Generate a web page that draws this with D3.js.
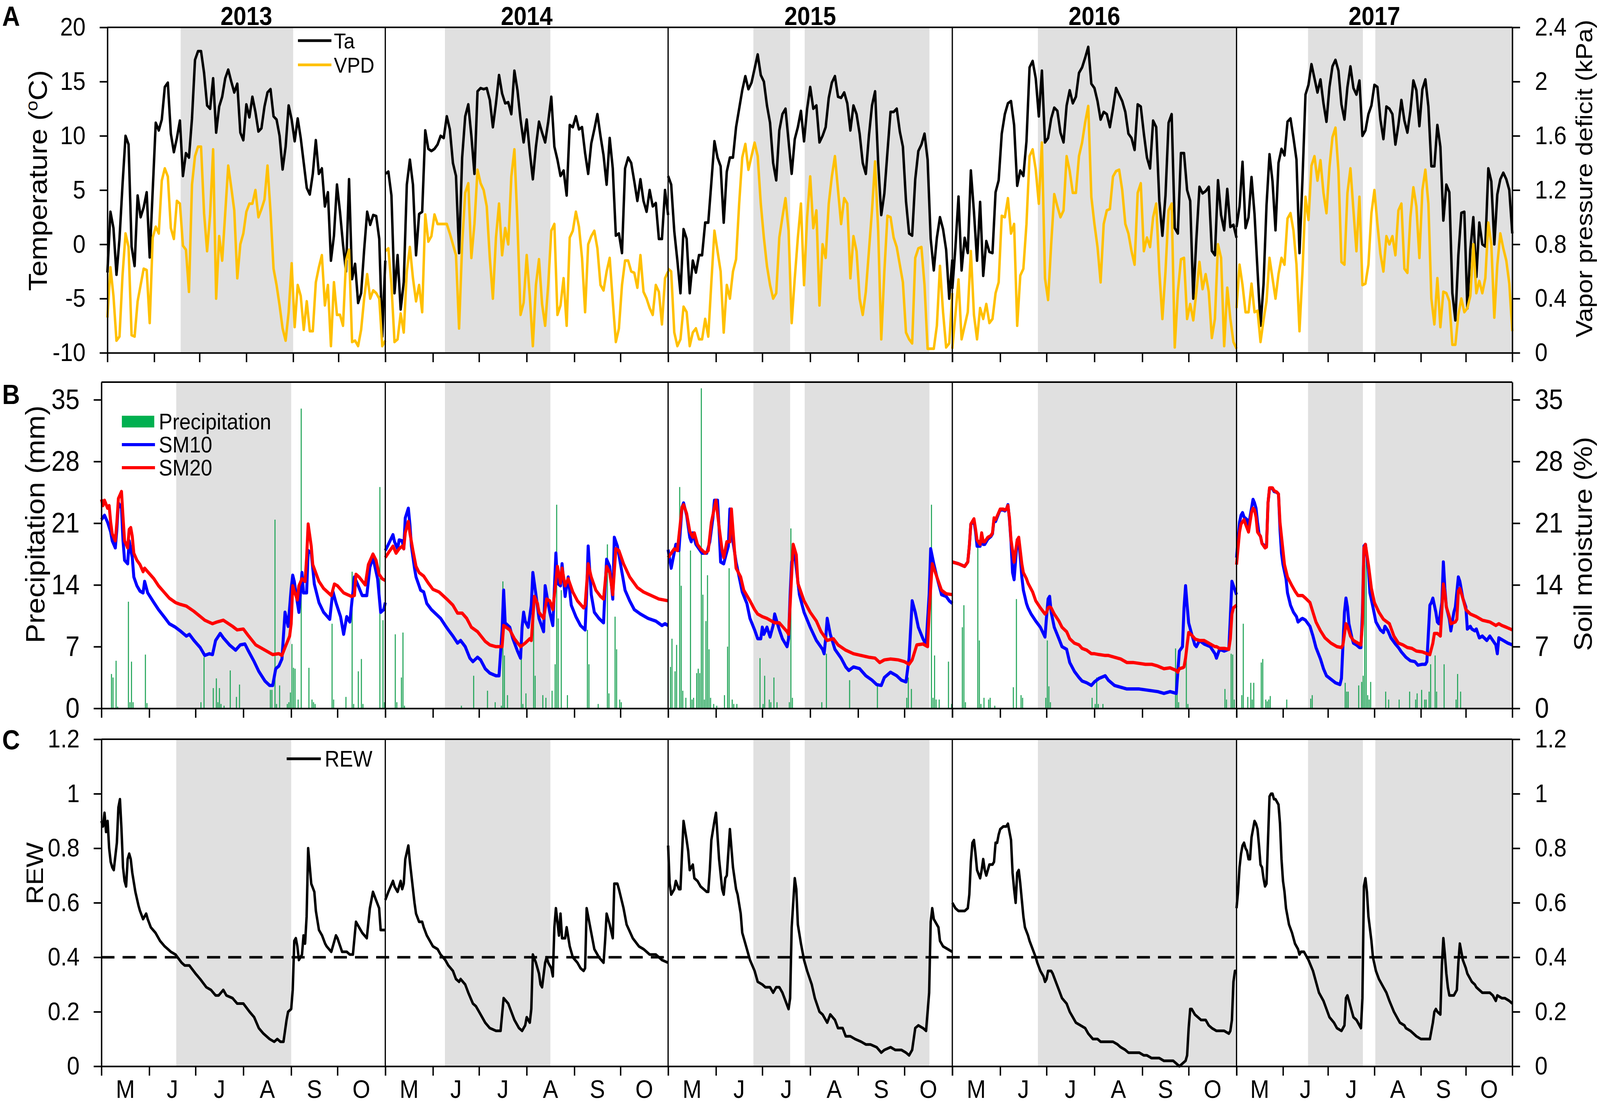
<!DOCTYPE html>
<html>
<head>
<meta charset="utf-8">
<script src="https://cdn.jsdelivr.net/npm/d3@7"></script>
<style>
  html, body { margin: 0; padding: 0; background: #fff; width: 100%; height: 100%; overflow: hidden; }
  #chart { width: 100vw; height: 100vh; }
  #chart svg { display: block; width: 100%; height: 100%; }
  svg text { font-family: "Liberation Sans", Arial, sans-serif; }
</style>
</head>
<body>
<div id="chart"></div>
<script>
// ---- data (day 0 = 1 May, day 184 = 1 Nov) ----
const years = [2013, 2014, 2015, 2016, 2017];
const monthStarts = [0, 31, 61, 92, 123, 153, 184];
const monthLabels = ['M', 'J', 'J', 'A', 'S', 'O'];
const taTicks = [-10, -5, 0, 5, 10, 15, 20];
const vpdTicks = [0, 0.4, 0.8, 1.2, 1.6, 2, 2.4];
const mmTicks = [0, 7, 14, 21, 28, 35];
const rewTicks = [0, 0.2, 0.4, 0.6, 0.8, 1, 1.2];
const rewThreshold = 0.4;

// grey periods [startDay, endDay] per year
const droughtPeriods = [
  [[48.5, 123]],
  [[38.8, 107.4]],
  [[55.2, 79], [88.4, 169.2]],
  [[55.4, 184]],
  [[47.7, 84.3], [92.6, 184]]
];

// air temperature (degC), one value every 2 days
const taSeries = [
  [-2.6, 3.0, 1.5, -2.8, 0.5, 5.5, 10, 9.2, -0.2, -2.0,
   4.5, 2.5, 3.4, 4.8, -1.2, 5.0, 11.2, 10.5, 11.5, 14.5,
   14.9, 10.2, 8.5, 9.8, 11.4, 6.3, 8.4, 8.0, 11.6, 17.0,
   17.8, 17.8, 15.8, 12.8, 12.5, 15.3, 10.3, 12.7, 13.6, 15.3,
   16.1, 15.0, 14.0, 14.8, 10.3, 9.6, 12.9, 11.7, 13.6, 12.2,
   10.4, 10.7, 12.7, 14.0, 14.3, 11.8, 11.5, 10.0, 6.9, 9.0,
   12.8, 11.5, 9.5, 11.6, 9.8, 7.5, 5.2, 4.6, 6.5, 9.6,
   6.5, 7.0, 3.5, 4.8, -1.5, 0.8, 5.5, 3.0, 0.0, -2.5,
   6.0, -3.2, -1.8, -5.4, -4.5, -0.5, 3.0, 1.8, 2.7, 2.6,
   0.5, -8.5, -1.5],
  [6.5, 6.7, 4.5, -4.5, -1.0, -6.0, -3.5, 5.5, 7.8, 5.5,
   -1.0, 2.8, 3.0, 10.5, 8.8, 8.6, 8.8, 9.2, 10.0, 9.8,
   11.8, 10.6, 7.5, 6.3, -0.8, 8.0, 11.8, 12.9, 10.0, 6.5,
   14.1, 14.4, 14.3, 14.4, 13.3, 10.8, 13.0, 15.6, 13.9, 13.0,
   13.1, 12.0, 16.0, 14.2, 11.5, 9.4, 11.5, 8.5, 6.0, 9.0,
   11.3, 10.3, 9.4, 11.3, 13.6, 9.0, 7.8, 6.3, 6.8, 4.5,
   11.0, 10.8, 11.8, 10.6, 10.8, 8.4, 6.5, 9.3, 10.6, 12.0,
   10.0, 8.2, 5.5, 9.8, 7.0, 0.8, 1.0, -0.8, 7.0, 8.0,
   7.5, 5.8, 4.0, 6.0, 4.0, 3.0, 5.0, 3.5, 3.8, 0.5,
   0.5, 5.0, 2.7],
  [6.3, 5.5, 1.2, -1.5, -4.5, 1.4, 0.5, -4.5, -1.5, -2.6,
   -1.0, -1.0, 2.0, 2.0, 5.7, 9.5, 8.0, 7.2, 2.0, 6.7,
   8.0, 8.0, 10.8, 12.5, 14.2, 15.5, 14.3, 14.9, 16.2, 17.5,
   15.6, 15.0, 12.8, 11.2, 7.5, 5.9, 10.5, 12.0, 12.5, 9.5,
   6.5, 9.7, 10.8, 12.3, 9.5, 12.5, 14.5, 12.5, 12.8, 9.4,
   10.0, 10.8, 13.5, 14.9, 15.5, 13.6, 13.5, 14.0, 13.0, 10.5,
   12.8, 12.0, 10.2, 7.5, 6.5, 10.0, 12.8, 14.1, 7.5, 2.7,
   4.7, 8.5, 12.2, 12.2, 12.5, 10.4, 9.0, 4.0, 1.0, 0.8,
   6.0, 8.6, 9.2, 10.2, 7.8, 0.5, -2.4, 0.6, 2.5, 1.4,
   -0.5, -5.0, -1.4],
  [-4.1, -0.3, 4.4, -2.4, 0.6, -0.8, 6.8, 3.0, -1.5, 3.9,
   -2.9, 0.3, -0.7, -0.8, 4.8, 5.9, 10.2, 12.0, 13.0, 13.2,
   11.0, 5.4, 6.8, 6.3, 9.5, 16.3, 16.9, 15.3, 11.8, 16.0,
   9.4, 9.8, 11.6, 12.6, 12.3, 10.3, 9.4, 12.8, 14.2, 13.0,
   13.6, 15.8, 16.3, 17.2, 18.2, 14.8, 14.4, 13.2, 11.5, 12.2,
   12.0, 10.8, 12.5, 14.4, 13.8, 13.2, 12.2, 10.2, 9.8, 8.7,
   12.9, 12.7, 10.2, 8.0, 7.0, 11.4, 10.8, 4.0, 0.8, 4.5,
   11.2, 12.0, 1.5, 1.0, 8.4, 8.4, 5.0, 4.0, -5.0, 0.5,
   5.3, 4.7, 4.9, 5.3, -0.6, -1.0, 5.9, 2.7, 1.3, 5.1,
   1.6, 1.8, 0.6],
  [1.6, 3.5, 7.6, 1.5, 2.5, 6.2, 2.8, -2.4, -7.5, -3.7,
   3.6, 8.3, 5.8, 1.3, 7.5, 8.8, 8.2, 11.3, 11.6, 9.8,
   7.8, -0.8, 6.0, 13.8, 14.7, 16.6, 15.3, 14.0, 15.2, 13.0,
   11.3, 14.5, 16.4, 17.0, 16.0, 12.9, 11.5, 14.5, 16.4, 14.4,
   13.8, 15.1, 10.0, 10.5, 12.0, 12.8, 14.7, 14.5, 11.5, 9.7,
   12.7, 12.5, 12.0, 9.2, 11.0, 13.3, 11.4, 10.3, 12.3, 15.1,
   14.2, 10.9, 14.3, 15.2, 12.7, 7.2, 7.2, 11.0, 9.0, 2.2,
   5.5, 4.8, -4.5, -7.0, -1.0, 2.9, 3.0, -5.9, -0.5, 2.5,
   -3.0, 2.0, 0.0, -0.2, 7.0, 5.8, 0.0, 4.6, 6.0, 6.6,
   6.0, 5.0, 1.0]
];

// vapour pressure deficit (kPa), one value every 2 days
const vpdSeries = [
  [0.26, 0.63, 0.42, 0.09, 0.12, 0.57, 0.88, 0.78, 0.13, 0.12,
   0.38, 0.50, 0.62, 0.61, 0.22, 0.85, 0.93, 0.88, 1.27, 1.36,
   1.30, 0.92, 0.84, 1.12, 1.10, 0.79, 0.76, 0.45, 1.24, 1.45,
   1.52, 1.52, 1.03, 0.75, 1.02, 1.50, 0.40, 0.86, 0.68, 1.03,
   1.38, 1.22, 1.05, 0.55, 0.80, 0.88, 1.04, 1.10, 1.10, 1.20,
   1.00, 1.06, 1.13, 1.38, 1.04, 0.62, 0.50, 0.35, 0.18, 0.09,
   0.30, 0.66, 0.19, 0.50, 0.42, 0.17, 0.38, 0.16, 0.16, 0.52,
   0.63, 0.72, 0.35, 0.50, 0.05, 0.52, 0.28, 0.28, 0.20, 0.68,
   0.76, 0.08, 0.09, 0.05, 0.17, 0.40, 0.58, 0.40, 0.46, 0.44,
   0.40, 0.05, 0.09],
  [0.75, 0.77, 0.50, 0.08, 0.10, 0.29, 0.15, 0.60, 0.78, 0.55,
   0.38, 0.50, 0.30, 1.02, 0.82, 0.86, 1.02, 0.95, 0.95, 0.95,
   0.95, 0.88, 0.80, 0.72, 0.18, 0.80, 1.18, 1.25, 0.70, 0.95,
   1.35, 1.25, 1.20, 1.08, 0.70, 0.40, 0.85, 1.10, 0.72, 0.92,
   0.80, 1.30, 1.50, 0.95, 0.28, 0.37, 0.72, 0.42, 0.05, 0.50,
   0.69, 0.36, 0.20, 0.50, 0.90, 0.95, 0.28, 0.35, 0.55, 0.20,
   0.85, 0.90, 1.04, 0.93, 0.70, 0.30, 0.80, 0.86, 0.90, 0.77,
   0.50, 0.46, 0.60, 0.70, 0.38, 0.08, 0.18, 0.50, 0.68, 0.68,
   0.60, 0.59, 0.48, 0.72, 0.45, 0.40, 0.33, 0.28, 0.50, 0.45,
   0.21, 0.55, 0.60],
  [0.62, 0.60, 0.15, 0.05, 0.10, 0.34, 0.30, 0.05, 0.15, 0.18,
   0.10, 0.10, 0.25, 0.12, 0.52, 0.90, 0.75, 0.60, 0.15, 0.50,
   0.40, 0.60, 0.69, 1.10, 1.44, 1.54, 1.35, 1.45, 1.55, 1.45,
   1.10, 0.85, 0.64, 0.50, 0.40, 0.44, 0.85, 1.00, 1.14, 0.90,
   0.22, 0.55, 0.85, 1.10, 0.50, 1.00, 1.30, 0.92, 1.05, 0.35,
   0.80, 0.70, 1.10, 1.30, 1.45, 1.20, 0.95, 1.14, 1.10, 0.55,
   0.86, 0.75, 0.40, 0.28, 0.45, 0.75, 1.05, 1.41, 0.90, 0.10,
   0.60, 1.01, 1.00, 0.85, 0.78, 0.65, 0.52, 0.15, 0.10, 0.07,
   0.70, 0.77, 0.78, 0.50, 0.03, 0.03, 0.03, 0.20, 0.64, 0.30,
   0.04, 0.07, 0.44],
  [0.03, 0.28, 0.54, 0.10, 0.20, 0.30, 0.75, 0.28, 0.10, 0.33,
   0.25, 0.36, 0.22, 0.25, 0.44, 0.52, 1.01, 1.00, 1.14, 0.88,
   0.95, 0.20, 0.57, 0.62, 0.95, 1.45, 1.50, 1.35, 1.10, 1.55,
   0.55, 0.39, 0.80, 1.17, 1.08, 1.00, 1.05, 1.45, 1.34, 1.18,
   1.18, 1.45, 1.55, 1.70, 1.82, 1.15, 0.95, 0.78, 0.52, 0.95,
   1.05, 1.06, 1.30, 1.34, 1.35, 1.20, 0.95, 0.88, 0.75, 0.65,
   1.18, 1.25, 0.75, 0.85, 0.78, 1.00, 1.10, 0.60, 0.25, 0.60,
   1.05, 1.10, 0.04, 0.45, 0.69, 0.70, 0.25, 0.36, 0.24, 0.45,
   0.67, 0.47, 0.58, 0.45, 0.11, 0.25, 0.80, 0.70, 0.05, 0.48,
   0.25, 0.08, 0.03],
  [0.33, 0.65, 0.50, 0.30, 0.30, 0.51, 0.30, 0.31, 0.08, 0.24,
   0.38, 0.70, 0.55, 0.40, 0.58, 0.70, 0.65, 0.99, 1.03, 0.90,
   0.65, 0.16, 0.60, 1.15, 0.98, 1.38, 1.45, 1.27, 1.42, 1.18,
   1.03, 1.37, 1.59, 1.66, 1.34, 0.67, 0.65, 1.18, 1.36, 1.05,
   0.75, 1.15, 0.50, 0.51, 0.65, 1.03, 1.20, 0.95, 0.73, 0.60,
   0.86, 0.80, 0.86, 0.72, 1.05, 1.10, 0.62, 0.59, 1.00, 1.22,
   1.08, 0.70, 1.20, 1.35, 1.10, 0.40, 0.21, 0.55, 0.19, 0.45,
   0.44, 0.38, 0.06, 0.06, 0.28, 0.40, 0.30, 0.33, 0.42, 0.80,
   0.44, 0.53, 0.44, 0.55, 0.96, 0.80, 0.26, 0.65, 0.88, 0.77,
   0.68, 0.51, 0.16]
];

// daily precipitation (mm): [day, mm]
const precipSeries = [
  [[6,3.9],[7,3.5],[9,5.4],[10,0.2],[17,12.1],[18,0.7],[19,5.3],[20,0.7],[28,6.1],[29,0.6],
   [64,0.7],[66,5.8],[72,2.3],[74,3.4],[75,0.7],[76,2.3],[77,0.5],[79,0.3],[83,4.3],[87,1.3],
   [89,2.7],[109,2.1],[110,2.1],[112,21.4],[113,0.5],[115,2.6],[120,0.5],[121,0.7],[122,1.8],
   [123,7.3],[124,4.6],[125,4.5],[127,1.0],[129,34.0],[134,4.6],[136,1.0],[137,0.7],[138,0.5],
   [149,9.6],[150,1.0],[158,1.3],[162,15.5],[163,0.5],[166,4.2],[168,5.6],[169,0.5],[180,25.1],
   [182,10.0],[183,0.7]],
  [[6,8.4],[7,0.7],[10,3.5],[11,8.6],[12,0.3],[49,0.3],[57,3.7],[66,2.0],[71,0.7],[75,0.3],
   [76,14.4],[77,6.0],[79,1.5],[88,7.9],[89,0.5],[91,1.7],[96,11.4],[97,3.7],[102,1.5],[104,1.2],
   [108,2.0],[110,5.0],[111,23.1],[112,10.2],[114,13.4],[118,1.5],[131,8.9],[132,5.0],[138,0.5],
   [144,18.6],[145,1.7],[149,10.4],[150,6.7],[152,1.0],[153,0.7]],
  [[1,4.7],[2,7.9],[4,4.2],[5,7.2],[7,25.1],[8,13.9],[9,2.0],[11,1.2],[14,17.9],[15,1.0],
   [16,1.2],[18,4.0],[19,4.5],[20,4.0],[21,36.3],[22,12.9],[23,1.0],[24,9.9],[25,15.1],[26,6.7],
   [27,1.2],[29,0.5],[31,0.3],[36,1.5],[38,7.0],[39,15.9],[41,1.0],[42,0.5],[44,0.5],[59,5.7],
   [61,0.5],[62,3.7],[65,1.0],[66,0.7],[68,3.5],[70,0.7],[78,0.7],[79,20.4],[80,1.2],[99,0.7],
   [102,6.2],[117,3.2],[135,2.7],[154,1.2],[155,3.5],[157,2.2],[170,23.1],[171,1.2],[172,6.0],
   [173,1.0],[175,1.0],[181,5.3],[183,0.5]],
  [[6,9.2],[7,11.7],[8,0.7],[16,19.1],[17,7.7],[18,0.5],[20,1.2],[23,1.0],[24,1.2],[27,0.3],
   [39,2.4],[41,12.4],[44,1.5],[45,1.2],[60,1.2],[61,7.7],[62,2.5],[63,0.7],[90,1.2],[92,0.5],
   [93,3.5],[94,0.5],[97,0.5],[144,6.8],[145,3.5],[146,0.7],[151,7.0],[152,0.5],[176,2.2],
   [177,1.0],[180,6.2],[181,6.1],[182,1.0]],
  [[3,1.5],[4,9.6],[7,1.3],[9,2.9],[10,1.0],[11,2.9],[16,5.2],[17,5.6],[19,1.0],[20,0.8],
   [21,1.0],[22,1.4],[33,1.0],[49,1.1],[50,1.5],[72,2.9],[73,1.9],[74,1.9],[81,2.6],[83,3.0],
   [84,3.7],[85,16.3],[86,17.4],[87,1.5],[88,1.0],[89,3.0],[99,1.9],[101,1.0],[108,1.0],
   [115,1.9],[119,1.0],[120,1.7],[123,2.1],[125,1.0],[126,1.0],[128,1.9],[129,5.0],[132,6.0],
   [133,1.9],[138,5.0],[146,1.0],[147,3.9],[149,1.9]]
];

// soil moisture at 10 cm (%): [day, value]
const sm10Series = [
  [[0,21.4],[2,21.9],[4,21.1],[6,20.0],[7,19.0],[9,18.2],[10,20.3],[11,23.3],[13,22.7],[14,19.0],
   [15,16.8],[17,16.4],[18,19.0],[20,17.1],[21,14.9],[23,13.9],[25,13.3],[27,13.1],[28,14.4],[30,13.1],
   [34,12.0],[37,11.2],[41,10.3],[44,9.6],[48,9.2],[51,8.8],[55,8.2],[57,8.4],[60,7.7],[64,6.9],
   [67,6.0],[70,6.2],[72,6.1],[74,7.7],[77,8.5],[79,8.0],[83,7.2],[87,6.6],[90,7.2],[93,7.3],
   [95,6.6],[99,5.3],[102,4.2],[106,3.1],[109,2.6],[111,2.6],[113,4.5],[115,4.8],[117,5.6],[119,10.9],
   [121,9.3],[123,13.6],[124,15.1],[125,14.4],[127,12.0],[128,10.9],[130,15.4],[131,13.1],[133,13.1],
   [134,17.9],[136,17.6],[138,14.1],[141,12.0],[144,10.9],[148,10.1],[150,13.3],[152,12.0],[155,10.4],
   [157,8.4],[159,10.4],[161,9.8],[164,14.9],[166,14.1],[169,12.8],[172,12.8],[174,16.0],[176,17.1],
   [179,14.7],[181,10.9],[183,11.2],[184,12.0]],
  [[0,17.9],[2,18.6],[5,19.7],[6,18.9],[8,18.1],[9,19.1],[11,19.0],[12,18.1],[13,21.6],[15,22.7],
   [16,20.9],[17,18.4],[19,15.9],[20,14.9],[22,13.9],[23,13.4],[25,13.2],[27,11.9],[30,11.2],[33,10.7],
   [36,10.2],[39,9.4],[41,8.9],[44,8.2],[47,7.4],[49,7.7],[52,7.0],[55,5.7],[57,5.3],[60,5.8],
   [62,5.5],[65,4.5],[68,4.0],[72,3.7],[74,3.7],[76,8.9],[77,13.4],[78,9.7],[81,9.2],[83,7.9],
   [86,6.5],[88,5.7],[89,9.2],[90,10.9],[91,9.9],[93,9.2],[95,11.7],[96,15.4],[98,12.9],[100,10.2],
   [102,9.2],[103,8.7],[104,13.9],[105,12.9],[107,10.9],[109,9.4],[111,17.6],[112,14.2],[114,13.9],
   [115,16.4],[117,12.7],[118,13.9],[119,14.9],[121,11.7],[124,10.4],[127,9.4],[130,8.9],[131,12.9],
   [132,18.4],[134,12.9],[136,10.9],[139,10.2],[142,9.7],[143,13.7],[144,16.9],[146,16.1],[148,12.4],
   [149,19.4],[151,18.4],[154,15.4],[156,13.4],[159,12.2],[162,11.2],[166,10.7],[171,10.2],[176,9.9],
   [180,9.4],[182,9.6],[184,9.4]],
  [[0,18.0],[2,15.9],[5,18.6],[7,17.9],[9,22.8],[10,23.3],[12,21.9],[14,19.4],[15,18.9],[16,19.9],
   [18,18.6],[20,18.1],[22,17.6],[25,17.6],[27,18.9],[29,21.6],[30,23.6],[32,23.6],[33,20.4],[34,16.6],
   [36,16.4],[37,17.1],[39,18.4],[40,22.6],[42,18.9],[44,16.6],[46,14.9],[48,13.2],[51,11.9],[53,10.2],
   [56,8.9],[58,7.9],[60,7.9],[61,9.2],[62,8.4],[64,9.2],[66,8.1],[68,9.4],[69,10.7],[72,8.9],
   [74,7.9],[77,7.0],[78,7.9],[79,12.9],[80,16.6],[82,17.4],[83,15.9],[85,12.9],[88,10.9],[92,9.2],
   [96,7.7],[100,6.7],[101,6.2],[102,7.9],[103,10.2],[105,8.4],[108,6.7],[112,5.7],[115,4.7],[117,4.3],
   [120,4.7],[124,4.5],[128,3.7],[132,3.2],[135,2.7],[138,2.6],[140,3.5],[144,4.1],[148,3.7],[151,3.2],
   [154,3.0],[156,5.7],[158,12.2],[160,10.9],[162,9.2],[165,7.9],[167,7.2],[169,12.9],[170,18.1],
   [172,16.4],[174,14.9],[177,12.9],[180,12.7],[182,12.2],[184,11.9]],
  [[0,16.6],[4,16.4],[8,16.1],[10,16.6],[11,18.4],[12,20.9],[14,21.2],[15,20.1],[16,18.4],[18,18.4],
   [19,19.6],[20,18.6],[21,18.6],[23,19.2],[25,19.5],[26,19.8],[27,21.4],[28,21.2],[30,22.1],[31,22.5],
   [33,22.5],[34,22.4],[35,22.6],[36,23.1],[37,21.4],[38,18.9],[39,15.4],[40,14.6],[42,19.1],[43,19.0],
   [44,17.1],[45,14.9],[46,13.4],[48,11.9],[49,11.4],[51,10.7],[54,9.9],[57,9.2],[60,8.1],[61,10.4],
   [62,12.4],[63,12.7],[64,10.9],[66,9.2],[69,7.9],[71,7.0],[74,6.7],[76,5.2],[79,4.2],[82,3.5],
   [84,3.1],[87,2.9],[90,2.6],[92,3.0],[95,3.4],[99,3.7],[101,3.2],[105,2.6],[109,2.4],[113,2.2],
   [117,2.2],[121,2.2],[125,2.1],[129,2.0],[133,1.9],[137,1.7],[141,1.9],[145,1.7],[146,4.2],[147,6.5],
   [149,7.0],[150,11.4],[151,13.9],[152,11.7],[153,9.7],[155,8.4],[157,7.2],[158,7.0],[160,7.7],
   [163,7.3],[167,7.0],[170,6.2],[171,5.7],[173,6.7],[176,6.5],[179,6.7],[180,10.4],[181,14.4],
   [182,13.9],[184,12.9]],
  [[0,17.1],[2,21.1],[3,21.9],[4,22.2],[5,21.7],[7,21.4],[8,20.6],[9,21.7],[10,22.7],[11,23.7],
   [12,23.3],[13,22.7],[14,21.1],[15,19.8],[16,19.5],[17,18.7],[19,18.4],[20,18.4],[21,23.3],[22,24.9],
   [23,25.0],[24,24.9],[25,24.6],[27,24.5],[28,24.3],[29,20.3],[30,17.6],[31,16.3],[33,14.7],[34,13.1],
   [36,11.7],[38,10.9],[40,10.4],[41,9.8],[43,10.1],[44,10.2],[46,10.0],[49,9.3],[51,8.2],[53,6.9],
   [56,5.6],[58,4.5],[60,3.7],[63,3.3],[66,2.9],[69,2.7],[70,3.4],[72,10.9],[73,12.5],[74,11.5],
   [75,9.6],[77,8.0],[78,7.4],[80,7.2],[82,6.9],[83,6.9],[84,10.9],[85,18.4],[86,18.6],[88,15.8],
   [89,13.1],[91,11.5],[93,9.8],[96,8.9],[98,8.6],[99,9.3],[101,8.8],[103,8.0],[106,7.3],[108,6.9],
   [110,6.4],[113,5.8],[116,5.4],[119,5.3],[121,4.9],[124,5.0],[126,5.0],[127,5.3],[129,11.7],[130,12.0],
   [131,12.5],[133,10.9],[134,9.8],[135,9.6],[137,12.0],[138,16.6],[139,13.6],[140,11.5],[142,10.1],
   [143,8.8],[145,10.9],[146,11.5],[148,14.9],[149,14.4],[151,12.5],[153,11.5],[154,9.0],[156,9.3],
   [157,9.0],[159,8.8],[160,9.0],[162,8.0],[164,8.2],[167,7.7],[169,8.2],[171,7.7],[173,7.2],[174,6.2],
   [175,8.0],[178,7.7],[181,7.4],[184,7.2]]
];

// soil moisture at 20 cm (%): [day, value]
const sm20Series = [
  [[0,23.7],[1,23.0],[2,23.6],[4,22.7],[5,23.0],[6,21.1],[7,19.8],[9,19.0],[10,21.1],[11,23.8],
   [13,24.6],[14,21.7],[15,19.0],[17,18.2],[18,20.3],[19,20.5],[20,19.5],[21,17.6],[23,16.8],[25,16.3],
   [27,15.5],[28,15.9],[30,15.5],[34,14.7],[37,13.9],[41,13.1],[44,12.5],[48,12.0],[51,11.8],[55,11.6],
   [60,11.0],[67,10.0],[72,9.6],[75,9.8],[79,10.0],[85,9.3],[88,8.9],[92,9.0],[95,8.3],[100,7.2],
   [106,6.6],[111,6.1],[115,6.2],[117,6.0],[119,6.9],[122,8.2],[123,9.6],[124,13.9],[125,13.3],[127,12.3],
   [128,13.9],[130,14.7],[132,14.4],[133,17.1],[134,20.9],[136,18.4],[137,16.3],[141,14.4],[144,13.6],
   [149,12.8],[151,14.1],[153,13.9],[157,13.1],[162,12.7],[164,12.8],[165,15.2],[167,14.9],[171,14.0],
   [173,16.3],[176,17.5],[178,16.8],[180,15.2],[182,14.7],[184,14.5]],
  [[0,17.1],[3,17.9],[5,18.4],[7,17.6],[9,18.1],[11,18.4],[12,18.1],[13,19.9],[15,21.2],[16,19.9],
   [18,17.9],[20,16.1],[22,15.4],[25,15.0],[28,14.2],[31,13.5],[35,13.2],[40,12.4],[44,11.7],[47,10.8],
   [50,10.8],[53,10.2],[56,9.2],[60,8.7],[65,7.6],[68,7.2],[72,7.0],[76,7.0],[77,9.4],[81,8.9],
   [84,7.9],[88,7.0],[91,7.4],[94,7.9],[95,7.7],[97,12.7],[99,11.9],[100,10.9],[103,10.2],[105,12.4],
   [107,12.2],[109,11.2],[112,16.1],[114,14.2],[115,15.9],[117,13.9],[119,14.7],[122,13.2],[125,12.2],
   [129,11.4],[130,11.7],[132,16.4],[134,14.9],[137,13.4],[140,12.7],[142,12.4],[144,16.1],[146,15.4],
   [148,12.9],[150,18.1],[152,17.9],[155,16.4],[159,14.9],[164,13.7],[168,13.2],[173,12.8],[178,12.4],
   [184,12.2]],
  [[0,17.1],[4,18.1],[6,17.9],[9,22.8],[10,23.1],[12,22.1],[14,20.1],[16,19.4],[17,19.9],[19,18.6],
   [21,18.1],[24,17.6],[26,17.9],[28,21.1],[30,22.8],[31,23.6],[33,20.6],[35,17.9],[36,17.1],[38,18.9],
   [40,18.9],[41,22.6],[43,17.9],[44,15.9],[47,14.9],[49,13.4],[53,12.2],[56,11.2],[58,10.7],[61,10.4],
   [64,10.2],[67,9.9],[69,9.7],[72,9.7],[74,9.3],[77,8.7],[78,8.4],[79,11.7],[81,18.6],[83,17.4],
   [84,14.2],[88,12.2],[92,10.9],[96,9.9],[99,8.7],[103,7.7],[107,7.9],[110,7.2],[115,6.6],[120,6.2],
   [125,6.0],[130,5.8],[134,5.7],[137,5.2],[140,5.5],[144,5.6],[149,5.5],[153,5.3],[156,5.0],[158,5.5],
   [161,7.2],[165,7.3],[168,7.0],[169,10.9],[171,16.4],[174,14.9],[177,13.4],[180,13.0],[184,12.9]],
  [[0,16.6],[4,16.4],[8,16.1],[10,16.6],[11,18.4],[12,20.9],[14,21.5],[15,20.4],[16,19.1],[18,18.6],
   [19,19.9],[20,18.9],[21,18.9],[23,19.4],[25,19.6],[26,19.9],[27,21.6],[28,21.4],[30,22.2],[31,22.6],
   [33,22.6],[34,22.5],[35,22.6],[36,23.0],[37,21.6],[38,19.1],[39,17.9],[40,16.6],[42,19.1],[43,19.4],
   [44,17.9],[45,16.4],[46,15.4],[48,14.7],[49,14.2],[52,13.2],[54,12.2],[57,11.4],[60,10.7],[61,10.9],
   [62,11.4],[63,11.5],[64,11.4],[66,10.7],[69,9.9],[71,9.2],[74,8.7],[76,7.9],[79,7.4],[82,7.2],
   [84,6.8],[87,6.6],[90,6.2],[92,6.2],[95,6.1],[99,6.0],[101,6.0],[105,5.8],[109,5.6],[113,5.2],
   [117,5.2],[121,5.1],[125,5.0],[129,5.0],[133,4.8],[137,4.5],[141,4.6],[145,4.3],[146,4.1],[147,4.5],
   [149,4.6],[150,4.7],[151,5.7],[152,7.2],[153,8.6],[155,8.3],[157,7.9],[158,7.8],[160,7.7],[163,7.7],
   [167,7.3],[170,7.0],[171,7.0],[173,6.8],[176,6.8],[179,6.7],[180,7.9],[181,10.7],[182,11.4],[184,11.7]],
  [[0,16.3],[2,20.0],[3,20.9],[5,21.4],[6,20.9],[8,20.0],[9,21.1],[10,22.2],[11,22.7],[12,22.5],
   [13,21.7],[14,20.0],[16,19.5],[17,18.7],[19,18.2],[20,18.3],[21,23.3],[22,25.0],[24,25.0],[25,24.7],
   [27,24.5],[28,24.3],[29,21.1],[31,17.9],[32,16.3],[34,14.9],[37,13.9],[39,13.3],[41,12.8],[44,12.8],
   [46,12.5],[49,12.0],[51,10.9],[53,9.8],[56,8.8],[59,8.0],[63,7.4],[67,7.0],[70,6.9],[71,7.2],
   [73,9.6],[74,9.3],[76,8.2],[78,7.7],[81,7.4],[83,7.2],[84,9.6],[85,18.2],[86,18.6],[88,16.3],
   [90,13.6],[92,12.0],[95,10.9],[98,10.1],[102,9.6],[105,8.2],[108,7.4],[111,7.2],[114,6.9],[117,6.8],
   [120,6.5],[124,6.4],[127,6.2],[129,6.1],[131,7.4],[132,8.5],[134,8.5],[136,8.2],[138,14.1],[139,13.1],
   [140,11.5],[142,10.4],[143,9.6],[146,9.8],[147,10.1],[148,13.3],[149,13.6],[151,12.5],[153,11.2],
   [156,10.7],[160,10.4],[164,10.0],[169,9.8],[173,9.4],[175,9.6],[177,9.4],[180,9.2],[184,8.9]]
];

// relative extractable water: [day, value]
const rewSeries = [
  [[0,0.90],[1,0.88],[2,0.93],[3,0.86],[4,0.90],[5,0.80],[6,0.75],[7,0.73],[8,0.72],[10,0.82],
   [11,0.95],[12,0.98],[13,0.87],[14,0.73],[15,0.68],[16,0.66],[17,0.76],[18,0.78],[19,0.76],[20,0.71],
   [22,0.64],[24,0.59],[25,0.57],[27,0.54],[29,0.56],[30,0.54],[32,0.51],[35,0.49],[38,0.46],[41,0.44],
   [45,0.42],[48,0.41],[52,0.38],[54,0.37],[57,0.37],[61,0.34],[64,0.32],[68,0.29],[71,0.28],[74,0.26],
   [76,0.26],[79,0.28],[81,0.26],[85,0.25],[88,0.23],[92,0.23],[96,0.20],[99,0.18],[102,0.14],[105,0.12],
   [109,0.10],[112,0.09],[114,0.10],[116,0.09],[118,0.09],[120,0.17],[121,0.20],[123,0.21],[124,0.28],
   [125,0.46],[126,0.47],[127,0.44],[128,0.39],[130,0.41],[131,0.48],[132,0.45],[133,0.55],[134,0.80],
   [136,0.67],[138,0.64],[139,0.57],[141,0.50],[143,0.48],[145,0.45],[146,0.44],[149,0.42],[152,0.48],
   [153,0.47],[156,0.42],[159,0.42],[161,0.41],[163,0.41],[165,0.53],[167,0.51],[169,0.49],[172,0.47],
   [174,0.58],[176,0.64],[178,0.61],[180,0.58],[181,0.50],[183,0.50],[184,0.50]],
  [[0,0.61],[2,0.64],[5,0.68],[6,0.66],[8,0.64],[10,0.68],[11,0.65],[12,0.67],[13,0.76],[15,0.81],
   [16,0.75],[18,0.65],[19,0.60],[20,0.56],[22,0.53],[24,0.53],[25,0.51],[27,0.48],[29,0.46],[31,0.44],
   [34,0.43],[36,0.41],[39,0.39],[41,0.37],[44,0.35],[46,0.32],[48,0.31],[49,0.32],[52,0.30],[54,0.27],
   [57,0.23],[59,0.22],[62,0.19],[65,0.16],[68,0.14],[72,0.13],[75,0.13],[76,0.19],[77,0.25],[80,0.23],
   [82,0.20],[84,0.17],[87,0.14],[89,0.13],[91,0.15],[92,0.18],[94,0.16],[95,0.21],[96,0.41],[98,0.38],
   [100,0.34],[101,0.30],[102,0.29],[104,0.38],[105,0.40],[106,0.38],[108,0.36],[109,0.33],[110,0.51],
   [111,0.58],[113,0.48],[114,0.56],[115,0.47],[117,0.47],[118,0.51],[120,0.44],[122,0.40],[125,0.38],
   [127,0.36],[129,0.35],[130,0.36],[131,0.58],[134,0.49],[136,0.43],[139,0.40],[142,0.38],[143,0.46],
   [144,0.56],[146,0.52],[148,0.47],[149,0.67],[151,0.67],[152,0.65],[155,0.58],[157,0.52],[161,0.47],
   [165,0.44],[168,0.43],[172,0.41],[176,0.41],[180,0.39],[184,0.38]],
  [[0,0.81],[1,0.67],[2,0.63],[4,0.65],[5,0.68],[7,0.65],[8,0.65],[9,0.78],[10,0.90],[12,0.83],
   [13,0.79],[14,0.72],[16,0.74],[17,0.69],[19,0.68],[21,0.66],[23,0.65],[25,0.64],[26,0.64],[27,0.72],
   [28,0.83],[30,0.90],[31,0.93],[33,0.76],[35,0.65],[36,0.63],[37,0.69],[38,0.70],[40,0.87],[41,0.80],
   [42,0.73],[44,0.65],[45,0.63],[47,0.56],[48,0.49],[51,0.43],[53,0.39],[56,0.35],[58,0.31],[61,0.30],
   [63,0.29],[66,0.29],[68,0.27],[70,0.29],[72,0.29],[74,0.27],[76,0.24],[78,0.21],[79,0.25],[80,0.51],
   [82,0.69],[83,0.65],[84,0.52],[86,0.45],[88,0.39],[90,0.35],[93,0.30],[95,0.25],[98,0.20],[100,0.19],
   [103,0.16],[105,0.19],[108,0.17],[110,0.14],[113,0.14],[115,0.11],[118,0.11],[121,0.10],[125,0.09],
   [128,0.08],[131,0.08],[135,0.07],[138,0.05],[140,0.06],[144,0.07],[147,0.06],[151,0.06],[154,0.05],
   [156,0.04],[158,0.06],[160,0.14],[162,0.15],[165,0.14],[167,0.13],[169,0.27],[170,0.53],[171,0.58],
   [172,0.54],[175,0.51],[176,0.46],[178,0.44],[181,0.43],[184,0.42]],
  [[0,0.60],[2,0.58],[4,0.57],[6,0.57],[8,0.57],[10,0.58],[11,0.63],[12,0.75],[13,0.82],[14,0.83],
   [15,0.78],[16,0.72],[18,0.69],[19,0.72],[20,0.76],[21,0.72],[22,0.70],[23,0.72],[24,0.74],[26,0.74],
   [27,0.75],[28,0.82],[29,0.82],[30,0.85],[31,0.87],[33,0.88],[34,0.88],[35,0.88],[36,0.89],[38,0.83],
   [39,0.71],[40,0.65],[41,0.60],[42,0.71],[43,0.72],[44,0.67],[45,0.61],[46,0.55],[47,0.51],[49,0.48],
   [50,0.46],[52,0.43],[54,0.40],[55,0.38],[57,0.35],[59,0.33],[60,0.31],[61,0.32],[62,0.35],[64,0.35],
   [65,0.34],[67,0.31],[69,0.28],[71,0.25],[74,0.23],[76,0.20],[78,0.18],[80,0.16],[83,0.15],[86,0.14],
   [88,0.12],[91,0.10],[94,0.10],[96,0.09],[99,0.09],[102,0.09],[104,0.09],[107,0.08],[109,0.07],[112,0.06],
   [114,0.05],[118,0.05],[121,0.05],[124,0.04],[126,0.04],[129,0.03],[132,0.03],[134,0.03],[137,0.02],
   [140,0.02],[143,0.02],[145,0.01],[147,0.0],[149,0.01],[151,0.02],[152,0.04],[153,0.14],[154,0.21],
   [155,0.21],[157,0.19],[159,0.18],[161,0.17],[164,0.17],[166,0.15],[168,0.14],[171,0.13],[174,0.13],
   [176,0.13],[179,0.12],[180,0.13],[181,0.17],[182,0.31],[183,0.35],[184,0.35]],
  [[0,0.58],[1,0.64],[2,0.73],[3,0.78],[4,0.81],[5,0.82],[6,0.80],[7,0.79],[8,0.76],[9,0.76],
   [10,0.84],[11,0.87],[12,0.90],[13,0.89],[14,0.87],[15,0.81],[16,0.74],[17,0.73],[18,0.69],[19,0.66],
   [20,0.67],[21,0.83],[22,0.99],[23,1.0],[24,1.0],[25,0.98],[26,0.98],[27,0.97],[28,0.96],[29,0.89],
   [30,0.76],[31,0.68],[32,0.64],[33,0.58],[35,0.52],[37,0.49],[39,0.45],[41,0.43],[42,0.41],[43,0.42],
   [45,0.42],[46,0.41],[48,0.39],[51,0.35],[53,0.31],[55,0.27],[58,0.24],[60,0.21],[62,0.18],[65,0.16],
   [67,0.14],[70,0.13],[72,0.15],[73,0.25],[74,0.26],[75,0.24],[77,0.20],[78,0.18],[80,0.17],[82,0.15],
   [83,0.14],[84,0.25],[85,0.66],[86,0.69],[87,0.64],[88,0.55],[90,0.46],[91,0.40],[93,0.35],[95,0.32],
   [98,0.29],[100,0.27],[102,0.24],[105,0.20],[107,0.18],[109,0.16],[112,0.15],[113,0.14],[116,0.13],
   [118,0.12],[120,0.11],[123,0.10],[125,0.10],[128,0.10],[129,0.10],[130,0.13],[131,0.16],[132,0.20],
   [133,0.21],[134,0.20],[136,0.19],[137,0.37],[138,0.47],[139,0.41],[140,0.34],[141,0.29],[142,0.26],
   [144,0.26],[145,0.26],[147,0.28],[148,0.38],[149,0.45],[150,0.42],[151,0.39],[153,0.36],[154,0.34],
   [156,0.32],[157,0.31],[159,0.30],[160,0.29],[162,0.28],[164,0.27],[167,0.27],[169,0.27],[171,0.26],
   [173,0.24],[174,0.26],[177,0.25],[179,0.25],[182,0.24],[184,0.23]]
];

(function () {
  'use strict';

  const width = 4543;
  const height = 2823;
  const font = '"Liberation Sans", Arial, sans-serif';
  const rightEdge = 4294;
  const innerEdges = [1094, 1897, 2704, 3511];
  const shade = '#e0e0e0';
  const orange = '#ffc000';

  // drawn in a 4543 x 2823 coordinate system, stretched to fill the window
  const svg = d3.select('#chart')
    .append('svg')
    .attr('viewBox', `0 0 ${width} ${height}`)
    .attr('preserveAspectRatio', 'none')
    .style('background', '#fff');

  const panels = {
    A: { top: 70, bottom: 903, left: 305 },
    B: { top: 978, bottom: 1813, left: 288 },
    C: { top: 1892, bottom: 2729, left: 288 }
  };

  // one x scale per year and panel
  const yearScales = (p) => {
    const edges = [p.left, ...innerEdges, rightEdge];
    return years.map((yr, i) => d3.scaleLinear().domain([0, 184]).range([edges[i], edges[i + 1]]));
  };
  const xA = yearScales(panels.A);
  const xB = yearScales(panels.B);
  const xC = yearScales(panels.C);

  const yTa = d3.scaleLinear().domain([-10, 20]).range([panels.A.bottom, panels.A.top]);
  const yVpd = d3.scaleLinear().domain([0, 2.4]).range([panels.A.bottom, panels.A.top]);
  const yMm = d3.scaleLinear().domain([0, 37]).range([panels.B.bottom, panels.B.top]);
  const ySm = d3.scaleLinear().domain([0, 37]).range([panels.B.bottom, panels.B.top]);
  const yRew = d3.scaleLinear().domain([0, 1.2]).range([panels.C.bottom, panels.C.top]);

  const numFmt = (d) => String(+d.toFixed(1));

  const drawShading = (p, xs) => {
    years.forEach((yr, i) => {
      svg.append('g')
        .selectAll('rect')
        .data(droughtPeriods[i])
        .enter()
        .append('rect')
        .attr('x', (d) => xs[i](d[0]))
        .attr('width', (d) => xs[i](d[1]) - xs[i](d[0]))
        .attr('y', p.top)
        .attr('height', p.bottom - p.top)
        .attr('fill', shade);
    });
  };

  const drawLine = (xs, y, pts, color, w) => {
    svg.append('path')
      .attr('d', d3.line().x((d) => xs(d[0])).y((d) => y(d[1]))(pts))
      .attr('fill', 'none')
      .attr('stroke', color)
      .attr('stroke-width', w)
      .attr('stroke-linejoin', 'round');
  };

  const styleAxis = (g, size) => {
    g.select('.domain').attr('stroke', '#000').attr('stroke-width', 4);
    g.selectAll('.tick line').attr('stroke', '#000').attr('stroke-width', 4);
    g.selectAll('.tick text').attr('font-size', size).attr('font-family', font).attr('fill', '#000');
  };

  const drawFrame = (p, xs, yLeft, leftTicks, yRight, rightTicks, tickFont) => {
    // top border
    svg.append('line')
      .attr('x1', p.left).attr('x2', rightEdge)
      .attr('y1', p.top).attr('y2', p.top)
      .attr('stroke', '#000').attr('stroke-width', 4);
    // year separators
    innerEdges.forEach((x) => {
      svg.append('line')
        .attr('x1', x).attr('x2', x)
        .attr('y1', p.top).attr('y2', p.bottom)
        .attr('stroke', '#000').attr('stroke-width', 3.5);
    });
    // bottom axis with month ticks
    xs.forEach((sc) => {
      svg.append('g')
        .attr('transform', `translate(0,${p.bottom})`)
        .call(d3.axisBottom(sc).tickValues(monthStarts).tickSize(24).tickSizeOuter(0).tickFormat(''))
        .call((g) => styleAxis(g, tickFont));
    });
    svg.append('g')
      .attr('transform', `translate(${p.left},0)`)
      .call(d3.axisLeft(yLeft).tickValues(leftTicks).tickSize(22).tickSizeOuter(0)
        .tickPadding(40).tickFormat(numFmt))
      .call((g) => styleAxis(g, tickFont));
    svg.append('g')
      .attr('transform', `translate(${rightEdge},0)`)
      .call(d3.axisRight(yRight).tickValues(rightTicks).tickSize(22).tickSizeOuter(0)
        .tickPadding(42).tickFormat(numFmt))
      .call((g) => styleAxis(g, tickFont));
  };

  const addText = (x, y, txt, size, opts = {}) => {
    const t = svg.append('text')
      .attr('x', x).attr('y', y)
      .attr('font-size', size)
      .attr('font-family', font)
      .attr('fill', '#000')
      .attr('text-anchor', opts.anchor || 'start')
      .attr('font-weight', opts.bold ? 'bold' : 'normal')
      .text(txt);
    if (opts.rotate) t.attr('transform', `rotate(${opts.rotate},${x},${y})`);
    if (opts.dy) t.attr('dy', opts.dy);
    return t;
  };

  // ---------- Panel A: temperature and VPD ----------
  drawShading(panels.A, xA);
  years.forEach((yr, i) => {
    drawLine(xA[i], yTa, taSeries[i].map((v, k) => [k * 2, v]), '#000', 7);
    drawLine(xA[i], yVpd, vpdSeries[i].map((v, k) => [k * 2, v]), orange, 7);
  });
  drawFrame(panels.A, xA, yTa, taTicks, yVpd, vpdTicks, 65);

  // ---------- Panel B: precipitation and soil moisture ----------
  drawShading(panels.B, xB);
  years.forEach((yr, i) => {
    svg.append('g')
      .selectAll('line')
      .data(precipSeries[i])
      .enter()
      .append('line')
      .attr('x1', (d) => xB[i](d[0] + 0.5))
      .attr('x2', (d) => xB[i](d[0] + 0.5))
      .attr('y1', yMm(0))
      .attr('y2', (d) => yMm(d[1]))
      .attr('stroke', '#22a559')
      .attr('stroke-width', 3);
  });
  years.forEach((yr, i) => {
    drawLine(xB[i], ySm, sm10Series[i], '#0000ff', 8.5);
    drawLine(xB[i], ySm, sm20Series[i], '#ff0000', 8.5);
  });
  drawFrame(panels.B, xB, yMm, mmTicks, ySm, mmTicks, 72);

  // ---------- Panel C: REW ----------
  drawShading(panels.C, xC);
  years.forEach((yr, i) => {
    drawLine(xC[i], yRew, rewSeries[i], '#000', 7);
  });
  svg.append('line')
    .attr('x1', panels.C.left).attr('x2', rightEdge)
    .attr('y1', yRew(rewThreshold)).attr('y2', yRew(rewThreshold))
    .attr('stroke', '#000').attr('stroke-width', 6.5)
    .attr('stroke-dasharray', '37,23');
  drawFrame(panels.C, xC, yRew, rewTicks, yRew, rewTicks, 65);

  // month labels
  xC.forEach((sc) => {
    monthLabels.forEach((m, j) => {
      addText(sc((monthStarts[j] + monthStarts[j + 1]) / 2), 2810, m, 65, { anchor: 'middle' });
    });
  });

  // year titles
  xA.forEach((sc, i) => {
    addText((sc.range()[0] + sc.range()[1]) / 2, 64, String(years[i]), 66, { anchor: 'middle', bold: true });
  });

  // panel letters
  addText(6, 66, 'A', 70, { bold: true });
  addText(6, 1034, 'B', 70, { bold: true });
  addText(6, 1918, 'C', 70, { bold: true });

  // axis titles
  const tTemp = addText(133, 462, 'Temperature (', 74, { anchor: 'middle', rotate: -90 });
  tTemp.append('tspan').attr('font-size', 48).attr('dy', -26).text('o');
  tTemp.append('tspan').attr('dy', 26).text('C)');
  addText(127, 1342, 'Precipitation (mm)', 75, { anchor: 'middle', rotate: -90 });
  addText(122, 2235, 'REW', 68, { anchor: 'middle', rotate: -90 });
  addText(4521, 457, 'Vapor pressure deficit (kPa)', 66, { anchor: 'middle', rotate: -90 });
  addText(4520, 1392, 'Soil moisture (%)', 72, { anchor: 'middle', rotate: -90 });

  // legends
  const legendLine = (x1, x2, y, color, w) => {
    svg.append('line').attr('x1', x1).attr('x2', x2).attr('y1', y).attr('y2', y)
      .attr('stroke', color).attr('stroke-width', w);
  };
  legendLine(846, 941, 104, '#000', 7);
  addText(948, 104, 'Ta', 56, { dy: '0.35em' });
  legendLine(846, 941, 166, orange, 7);
  addText(948, 166, 'VPD', 56, { dy: '0.35em' });

  svg.append('rect').attr('x', 346).attr('y', 1064).attr('width', 92).attr('height', 30).attr('fill', '#00b050');
  addText(451, 1079, 'Precipitation', 58, { dy: '0.35em' });
  legendLine(346, 440, 1138, '#0000ff', 8);
  addText(451, 1138, 'SM10', 58, { dy: '0.35em' });
  legendLine(346, 440, 1197, '#ff0000', 8);
  addText(451, 1197, 'SM20', 58, { dy: '0.35em' });

  legendLine(814, 911, 1942, '#000', 7);
  addText(922, 1942, 'REW', 58, { dy: '0.35em' });
})();
</script>
</body>
</html>
